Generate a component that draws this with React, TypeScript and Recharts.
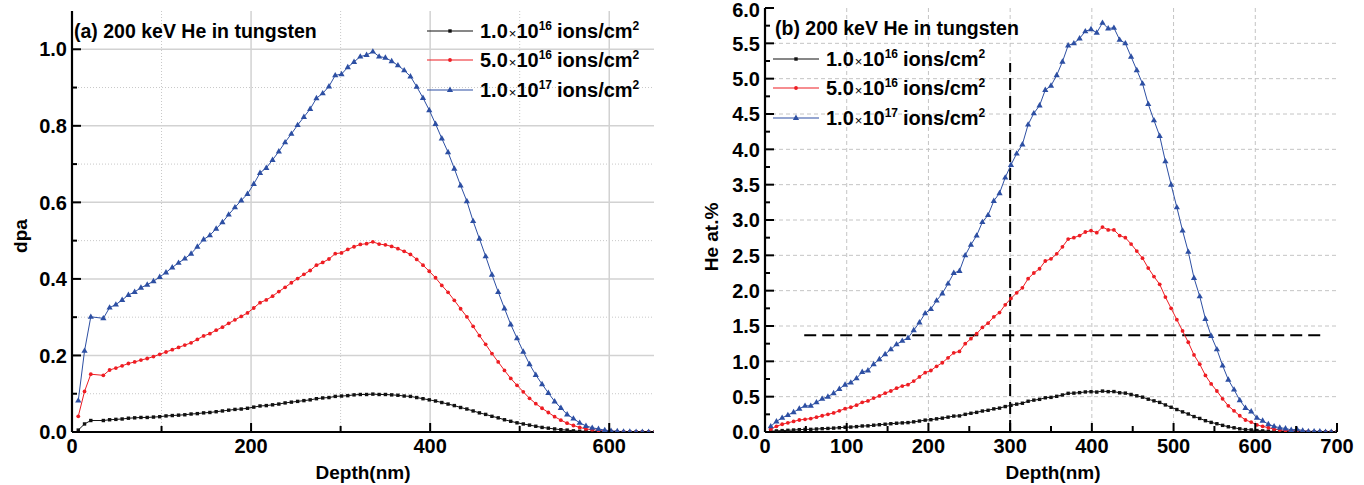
import React from 'react';
import { LineChart, Line, XAxis, YAxis, ReferenceLine } from 'recharts';

const FONT = '"Liberation Sans", Arial, Helvetica, sans-serif';
const BLACK = '#111111';
const RED = '#ee1d23';
const BLUE = '#2d4fa3';

// ---------- Panel (a): dpa vs depth ----------
const depthA = [7, 14, 21, 35, 42, 49, 56, 63, 70, 77, 84, 91, 98, 105, 112, 119, 126, 133, 140, 147, 154, 161, 168, 175, 182, 189, 196, 203, 210, 217, 224, 231, 238, 245, 252, 259, 266, 273, 280, 287, 294, 301, 308, 315, 322, 329, 336, 343, 350, 357, 364, 371, 378, 385, 392, 399, 406, 413, 420, 427, 434, 441, 448, 455, 462, 469, 476, 483, 490, 497, 504, 511, 518, 525, 532, 539, 546, 553, 560, 567, 574, 581, 588, 595, 602, 609, 616, 623, 630, 637, 644, 651];

const dpaLow = [0.005, 0.021, 0.030, 0.030, 0.032, 0.033, 0.034, 0.036, 0.037, 0.038, 0.038, 0.039, 0.040, 0.042, 0.043, 0.044, 0.045, 0.047, 0.048, 0.050, 0.051, 0.053, 0.055, 0.057, 0.059, 0.060, 0.062, 0.065, 0.068, 0.069, 0.071, 0.073, 0.076, 0.078, 0.080, 0.082, 0.084, 0.087, 0.089, 0.090, 0.093, 0.094, 0.095, 0.097, 0.098, 0.098, 0.099, 0.098, 0.098, 0.097, 0.096, 0.094, 0.093, 0.090, 0.087, 0.084, 0.081, 0.077, 0.073, 0.069, 0.064, 0.060, 0.055, 0.050, 0.046, 0.041, 0.037, 0.032, 0.028, 0.024, 0.021, 0.018, 0.015, 0.012, 0.010, 0.008, 0.006, 0.005, 0.003, 0.002, 0.002, 0.001, 0.001, 0, 0, 0, 0, 0, 0, 0, 0, 0];

const dpaMid = [0.041, 0.106, 0.151, 0.148, 0.162, 0.167, 0.173, 0.179, 0.183, 0.188, 0.192, 0.197, 0.203, 0.209, 0.215, 0.221, 0.227, 0.233, 0.242, 0.251, 0.257, 0.266, 0.274, 0.284, 0.293, 0.302, 0.311, 0.324, 0.338, 0.345, 0.355, 0.367, 0.378, 0.390, 0.401, 0.412, 0.422, 0.436, 0.443, 0.452, 0.466, 0.468, 0.477, 0.484, 0.490, 0.492, 0.497, 0.491, 0.489, 0.485, 0.479, 0.472, 0.464, 0.451, 0.436, 0.420, 0.403, 0.383, 0.365, 0.344, 0.322, 0.301, 0.276, 0.252, 0.229, 0.205, 0.183, 0.161, 0.140, 0.122, 0.105, 0.088, 0.074, 0.062, 0.051, 0.040, 0.031, 0.023, 0.017, 0.012, 0.008, 0.006, 0.004, 0.003, 0.002, 0.001, 0.001, 0, 0, 0, 0, 0];

const dpaHigh = [0.082, 0.212, 0.301, 0.297, 0.325, 0.333, 0.345, 0.358, 0.366, 0.377, 0.385, 0.394, 0.405, 0.417, 0.430, 0.442, 0.453, 0.466, 0.484, 0.503, 0.514, 0.531, 0.548, 0.568, 0.587, 0.605, 0.622, 0.648, 0.677, 0.690, 0.711, 0.733, 0.757, 0.779, 0.802, 0.823, 0.844, 0.872, 0.885, 0.903, 0.932, 0.935, 0.953, 0.967, 0.981, 0.985, 0.994, 0.981, 0.978, 0.969, 0.958, 0.945, 0.929, 0.902, 0.873, 0.841, 0.805, 0.767, 0.731, 0.688, 0.644, 0.603, 0.551, 0.505, 0.459, 0.411, 0.366, 0.323, 0.281, 0.245, 0.210, 0.177, 0.149, 0.125, 0.102, 0.080, 0.063, 0.046, 0.035, 0.024, 0.016, 0.011, 0.008, 0.005, 0.003, 0.002, 0.001, 0.001, 0, 0, 0, 0];

const xTicksA = [0, 100, 200, 300, 400, 500, 600];
const xLabelsA = [0, 200, 400, 600];
const yTicksA = [0, 0.1, 0.2, 0.3, 0.4, 0.5, 0.6, 0.7, 0.8, 0.9, 1.0];
const yLabelsA = [0, 0.2, 0.4, 0.6, 0.8, 1.0];
const gridMajorXA = [200, 400, 600];
const gridMinorXA = [100, 300, 500];
const gridMajorYA = [0.2, 0.4, 0.6, 0.8, 1.0];
const gridMinorYA = [0.1, 0.3, 0.5, 0.7, 0.9];

// ---------- Panel (b): He at.% vs depth ----------
const depthB = [7, 14, 21, 28, 35, 42, 49, 56, 63, 70, 77, 84, 91, 98, 105, 112, 119, 126, 133, 140, 147, 154, 161, 168, 175, 182, 189, 196, 203, 210, 217, 224, 231, 238, 245, 252, 259, 266, 273, 280, 287, 294, 301, 308, 315, 322, 329, 336, 343, 350, 357, 364, 371, 378, 385, 392, 399, 406, 413, 420, 427, 434, 441, 448, 455, 462, 469, 476, 483, 490, 497, 504, 511, 518, 525, 532, 539, 546, 553, 560, 567, 574, 581, 588, 595, 602, 609, 616, 623, 630, 637, 644, 651, 658, 665, 672, 679, 686, 693, 700];

const heLow = [0.01, 0.015, 0.02, 0.024, 0.028, 0.033, 0.037, 0.037, 0.042, 0.047, 0.05, 0.055, 0.061, 0.067, 0.07, 0.076, 0.085, 0.087, 0.096, 0.103, 0.11, 0.117, 0.124, 0.129, 0.133, 0.144, 0.155, 0.168, 0.174, 0.186, 0.196, 0.21, 0.225, 0.228, 0.25, 0.265, 0.278, 0.297, 0.307, 0.327, 0.338, 0.36, 0.378, 0.394, 0.407, 0.435, 0.451, 0.462, 0.484, 0.49, 0.505, 0.524, 0.547, 0.55, 0.557, 0.567, 0.57, 0.565, 0.579, 0.571, 0.572, 0.555, 0.55, 0.531, 0.512, 0.493, 0.464, 0.441, 0.419, 0.383, 0.35, 0.318, 0.285, 0.255, 0.218, 0.192, 0.16, 0.136, 0.117, 0.094, 0.074, 0.06, 0.045, 0.034, 0.029, 0.02, 0.016, 0.011, 0.008, 0.006, 0.005, 0.003, 0.004, 0.002, 0.001, 0, 0, 0, 0, 0];

const heMid = [0.04, 0.08, 0.11, 0.13, 0.15, 0.17, 0.18, 0.19, 0.21, 0.23, 0.25, 0.27, 0.30, 0.33, 0.35, 0.38, 0.42, 0.44, 0.48, 0.51, 0.55, 0.58, 0.62, 0.65, 0.67, 0.72, 0.78, 0.84, 0.87, 0.93, 0.98, 1.05, 1.12, 1.14, 1.25, 1.32, 1.39, 1.48, 1.54, 1.63, 1.69, 1.80, 1.89, 1.97, 2.04, 2.17, 2.25, 2.31, 2.42, 2.45, 2.52, 2.62, 2.73, 2.75, 2.78, 2.83, 2.85, 2.82, 2.90, 2.86, 2.86, 2.78, 2.75, 2.66, 2.56, 2.46, 2.32, 2.20, 2.09, 1.91, 1.75, 1.59, 1.43, 1.27, 1.09, 0.96, 0.80, 0.68, 0.58, 0.47, 0.37, 0.30, 0.23, 0.17, 0.14, 0.10, 0.08, 0.06, 0.04, 0.03, 0.02, 0.02, 0.02, 0.01, 0.01, 0, 0, 0, 0, 0];

const heHigh = [0.08, 0.15, 0.20, 0.24, 0.28, 0.33, 0.37, 0.37, 0.42, 0.47, 0.50, 0.55, 0.61, 0.67, 0.70, 0.76, 0.85, 0.87, 0.96, 1.03, 1.10, 1.17, 1.24, 1.29, 1.33, 1.44, 1.55, 1.68, 1.74, 1.86, 1.96, 2.10, 2.25, 2.28, 2.50, 2.65, 2.78, 2.97, 3.07, 3.27, 3.38, 3.60, 3.78, 3.94, 4.07, 4.35, 4.51, 4.62, 4.84, 4.90, 5.05, 5.24, 5.47, 5.50, 5.57, 5.67, 5.70, 5.65, 5.79, 5.71, 5.72, 5.55, 5.50, 5.31, 5.12, 4.93, 4.64, 4.41, 4.19, 3.83, 3.50, 3.18, 2.85, 2.55, 2.18, 1.92, 1.60, 1.36, 1.17, 0.94, 0.74, 0.60, 0.45, 0.34, 0.29, 0.20, 0.16, 0.11, 0.08, 0.06, 0.05, 0.03, 0.04, 0.02, 0.01, 0.01, 0.01, 0, 0, 0];

const xTicksB = [0, 50, 100, 150, 200, 250, 300, 350, 400, 450, 500, 550, 600, 650, 700];
const xLabelsB = [0, 100, 200, 300, 400, 500, 600, 700];
const yTicksB = [0, 0.25, 0.5, 0.75, 1.0, 1.25, 1.5, 1.75, 2.0, 2.25, 2.5, 2.75, 3.0, 3.25, 3.5, 3.75, 4.0, 4.25, 4.5, 4.75, 5.0, 5.25, 5.5, 5.75, 6.0];
const yLabelsB = [0, 0.5, 1.0, 1.5, 2.0, 2.5, 3.0, 3.5, 4.0, 4.5, 5.0, 5.5, 6.0];
const gridXB = [100, 200, 300, 400, 500, 600];
const gridYB = [0.5, 1.0, 1.5, 2.0, 2.5, 3.0, 3.5, 4.0, 4.5, 5.0, 5.5];

// dashed guide lines in panel (b)
const guideDepth = 300;
const guideDepthTop = 5.22;
const guideLevel = 1.37;
const guideLevelFrom = 48;
const guideLevelTo = 684;

// legend / titles
const doseMantissa = ['1.0', '5.0', '1.0'];
const doseExponent = ['16', '16', '17'];
const seriesColors = [BLACK, RED, BLUE];
const titleA = '(a) 200 keV He in tungsten';
const titleB = '(b) 200 keV He in tungsten';

const rowsA = depthA.map((d, i) => ({ depth: d, low: dpaLow[i], mid: dpaMid[i], high: dpaHigh[i] }));
const rowsB = depthB.map((d, i) => ({ depth: d, low: heLow[i], mid: heMid[i], high: heHigh[i] }));

const isIn = (list: number[], v: number) => list.some((t) => Math.abs(t - v) < 1e-9);

const tickText = { fontFamily: FONT, fontWeight: 'bold' as const, fontSize: 20, fill: '#000' };

function makeLeftTick(labels: number[]) {
  return (props: any) => {
    const { x, y, payload } = props;
    const major = isIn(labels, payload.value);
    // keep the topmost label inside the picture
    const ly = Math.max(y, 10);
    return (
      <g>
        <line x1={x} x2={x + (major ? 9 : 5)} y1={y} y2={y} stroke="#000" strokeWidth={2} />
        {major && (
          <text x={x - 5} y={ly} dy="0.36em" textAnchor="end" {...tickText}>
            {Number(payload.value).toFixed(1)}
          </text>
        )}
      </g>
    );
  };
}

function makeRightTick() {
  return (props: any) => {
    const { x, y } = props;
    return <line x1={x} x2={x - 4} y1={y} y2={y} stroke="#000" strokeWidth={1.5} />;
  };
}

function makeBottomTick(labels: number[]) {
  return (props: any) => {
    const { x, y, payload } = props;
    const major = isIn(labels, payload.value);
    return (
      <g>
        <line x1={x} x2={x} y1={y} y2={y - (major ? 9 : 6)} stroke="#000" strokeWidth={2} />
        {major && (
          <text x={x} y={y + 21} textAnchor="middle" {...tickText}>
            {String(payload.value)}
          </text>
        )}
      </g>
    );
  };
}

const SquareDot = (p: any) => {
  if (p.cx == null || p.cy == null) return <g key={p.index} />;
  return <rect key={p.index} x={p.cx - 1.7} y={p.cy - 1.7} width={3.4} height={3.4} fill={BLACK} />;
};
const CircleDot = (p: any) => {
  if (p.cx == null || p.cy == null) return <g key={p.index} />;
  return <circle key={p.index} cx={p.cx} cy={p.cy} r={1.9} fill={RED} />;
};
const TriDot = (p: any) => {
  if (p.cx == null || p.cy == null) return <g key={p.index} />;
  const { cx, cy } = p;
  return <path key={p.index} d={`M${cx},${cy - 3.4}L${cx + 3.1},${cy + 2}L${cx - 3.1},${cy + 2}Z`} fill={BLUE} />;
};
const dotRenderers = [SquareDot, CircleDot, TriDot];

const axisLineStyle = { stroke: '#000', strokeWidth: 2.2 };

function LegendMarker({ kind, cx, cy }: { kind: number; cx: number; cy: number }) {
  if (kind === 0) return <rect x={cx - 1.7} y={cy - 1.7} width={3.4} height={3.4} fill={BLACK} />;
  if (kind === 1) return <circle cx={cx} cy={cy} r={1.9} fill={RED} />;
  return <path d={`M${cx},${cy - 3.4}L${cx + 3.1},${cy + 2}L${cx - 3.1},${cy + 2}Z`} fill={BLUE} />;
}

function LegendBlock({ x, ys }: { x: number; ys: number[] }) {
  return (
    <g>
      {doseMantissa.map((m, i) => (
        <g key={i}>
          <line x1={x} x2={x + 46} y1={ys[i]} y2={ys[i]} stroke={seriesColors[i]} strokeWidth={1.2} />
          <LegendMarker kind={i} cx={x + 23} cy={ys[i]} />
          <text x={x + 53} y={ys[i] + 7} fontFamily={FONT} fontWeight="bold" fontSize={20} fill="#000">
            {m}
            <tspan fontSize={13} fontWeight="normal" dx={1}>×</tspan>
            <tspan>10</tspan>
            <tspan fontSize={12} dy={-8}>{doseExponent[i]}</tspan>
            <tspan dy={8} dx={5}>ions/cm</tspan>
            <tspan fontSize={12} dy={-8}>2</tspan>
          </text>
        </g>
      ))}
    </g>
  );
}

export default function App() {
  const LeftTickA = makeLeftTick(yLabelsA);
  const BottomTickA = makeBottomTick(xLabelsA);
  const LeftTickB = makeLeftTick(yLabelsB);
  const BottomTickB = makeBottomTick(xLabelsB);
  const RightTick = makeRightTick();
  const keys = ['low', 'mid', 'high'];

  return (
    <div style={{ position: 'absolute', left: 0, top: 0, width: 1364, height: 485, background: '#fff', fontFamily: FONT }}>
      <div style={{ position: 'absolute', left: 0, top: 0 }}>
        <LineChart width={680} height={485} data={rowsA} margin={{ top: 11, right: 26, left: 0, bottom: 0 }}>
          <XAxis dataKey="depth" type="number" domain={[0, 650]} allowDataOverflow ticks={xTicksA} interval={0}
            tickSize={0} tickMargin={0} tickLine={false} tick={BottomTickA} axisLine={axisLineStyle} height={53} />
          <XAxis xAxisId="top" orientation="top" type="number" domain={[0, 650]} allowDataOverflow height={0}
            tick={false} tickLine={false} axisLine={axisLineStyle} />
          <YAxis type="number" domain={[0, 1.1]} allowDataOverflow ticks={yTicksA} interval={0} width={72}
            tickSize={0} tickMargin={0} tickLine={false} tick={LeftTickA} axisLine={axisLineStyle} />
          <YAxis yAxisId="right" orientation="right" type="number" domain={[0, 1.1]} allowDataOverflow ticks={yTicksA}
            interval={0} width={0} tickSize={0} tickMargin={0} tickLine={false} tick={RightTick} axisLine={axisLineStyle} />
          {gridMinorXA.map((v) => (
            <ReferenceLine key={'mx' + v} x={v} stroke="#c8c8c8" strokeWidth={1} strokeDasharray="1 2" />
          ))}
          {gridMinorYA.map((v) => (
            <ReferenceLine key={'my' + v} y={v} stroke="#c8c8c8" strokeWidth={1} strokeDasharray="1 2" />
          ))}
          {gridMajorXA.map((v) => (
            <ReferenceLine key={'Mx' + v} x={v} stroke="#d2d2d2" strokeWidth={1.5} />
          ))}
          {gridMajorYA.map((v) => (
            <ReferenceLine key={'My' + v} y={v} stroke="#d2d2d2" strokeWidth={1.5} />
          ))}
          {keys.map((k, i) => (
            <Line key={k} dataKey={k} type="linear" stroke={seriesColors[i]} strokeWidth={1}
              dot={dotRenderers[i]} activeDot={false} isAnimationActive={false} />
          ))}
        </LineChart>
      </div>

      <div style={{ position: 'absolute', left: 680, top: 0 }}>
        <LineChart width={684} height={485} data={rowsB} margin={{ top: 8, right: 27, left: 0, bottom: 0 }}>
          <XAxis dataKey="depth" type="number" domain={[0, 700]} allowDataOverflow ticks={xTicksB} interval={0}
            tickSize={0} tickMargin={0} tickLine={false} tick={BottomTickB} axisLine={axisLineStyle} height={53} />
          <XAxis xAxisId="top" orientation="top" type="number" domain={[0, 700]} allowDataOverflow height={0}
            tick={false} tickLine={false} axisLine={axisLineStyle} />
          <YAxis type="number" domain={[0, 6]} allowDataOverflow ticks={yTicksB} interval={0} width={85}
            tickSize={0} tickMargin={0} tickLine={false} tick={LeftTickB} axisLine={axisLineStyle} />
          <YAxis yAxisId="right" orientation="right" type="number" domain={[0, 6]} allowDataOverflow ticks={yTicksB}
            interval={0} width={0} tickSize={0} tickMargin={0} tickLine={false} tick={RightTick} axisLine={axisLineStyle} />
          {gridXB.map((v) => (
            <ReferenceLine key={'gx' + v} x={v} stroke="#c4c4c4" strokeWidth={1} strokeDasharray="4 3" />
          ))}
          {gridYB.map((v) => (
            <ReferenceLine key={'gy' + v} y={v} stroke="#c4c4c4" strokeWidth={1} strokeDasharray="4 3" />
          ))}
          <ReferenceLine segment={[{ x: guideDepth, y: 0 }, { x: guideDepth, y: guideDepthTop }]}
            stroke="#000" strokeWidth={2} strokeDasharray="12 6" />
          <ReferenceLine segment={[{ x: guideLevelFrom, y: guideLevel }, { x: guideLevelTo, y: guideLevel }]}
            stroke="#000" strokeWidth={2} strokeDasharray="12 6" />
          {keys.map((k, i) => (
            <Line key={k} dataKey={k} type="linear" stroke={seriesColors[i]} strokeWidth={1}
              dot={dotRenderers[i]} activeDot={false} isAnimationActive={false} />
          ))}
        </LineChart>
      </div>

      <svg width={1364} height={485} style={{ position: 'absolute', left: 0, top: 0, pointerEvents: 'none' }}>
        <text x={74} y={38} fontFamily={FONT} fontWeight="bold" fontSize={19.5} fill="#000">{titleA}</text>
        <LegendBlock x={427} ys={[31, 60, 90]} />
        <text x={775} y={35} fontFamily={FONT} fontWeight="bold" fontSize={19.5} fill="#000">{titleB}</text>
        <LegendBlock x={773} ys={[59, 88, 118]} />
        <text x={363} y={479} textAnchor="middle" fontFamily={FONT} fontWeight="bold" fontSize={19} fill="#000">Depth(nm)</text>
        <text x={1053} y={479} textAnchor="middle" fontFamily={FONT} fontWeight="bold" fontSize={19} fill="#000">Depth(nm)</text>
        <text x={27} y={236} transform="rotate(-90 27 236)" textAnchor="middle" fontFamily={FONT} fontWeight="bold" fontSize={19} fill="#000">dpa</text>
        <text x={718} y={237} transform="rotate(-90 718 237)" textAnchor="middle" fontFamily={FONT} fontWeight="bold" fontSize={19} fill="#000">He at.%</text>
      </svg>
    </div>
  );
}
